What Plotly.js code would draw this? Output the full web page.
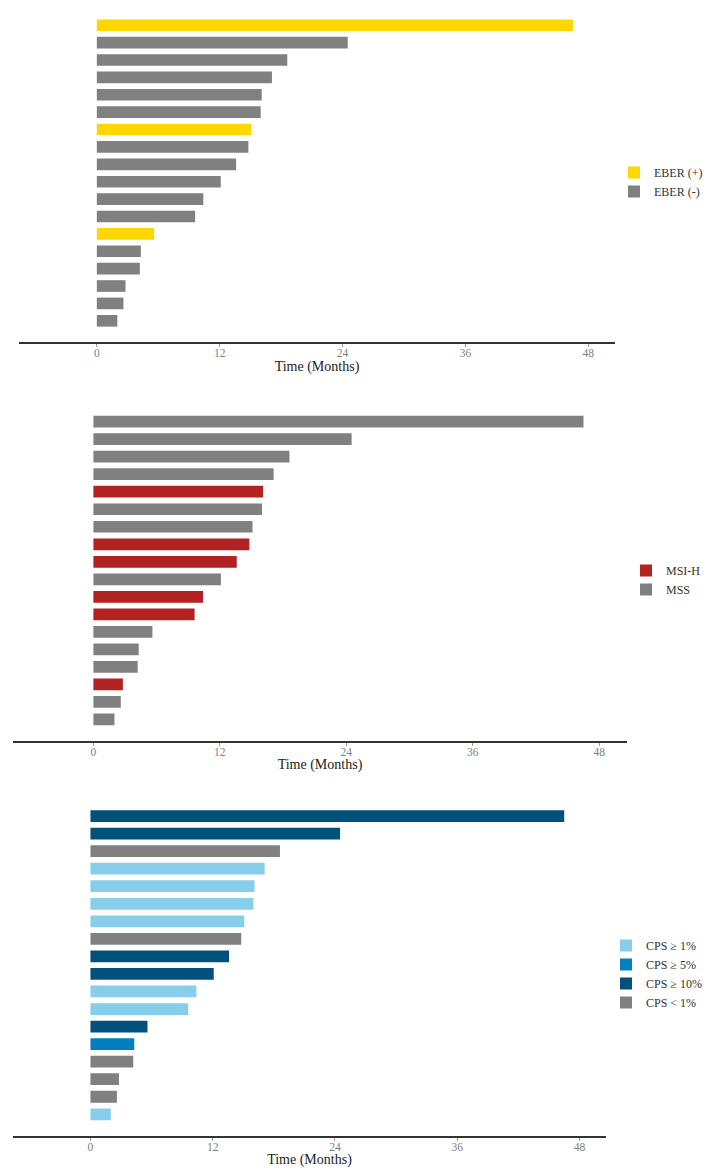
<!DOCTYPE html>
<html>
<head>
<meta charset="utf-8">
<script src="https://cdn.plot.ly/plotly-3.0.1.min.js"></script>
<style>html,body{margin:0;padding:0;background:#fff;}#chart{width:712px;height:1173px;}</style>
</head>
<body>
<div id="chart"></div>
<script>
// ---- Data (one bar per patient, sorted by time) ----
const patientRank = [1,2,3,4,5,6,7,8,9,10,11,12,13,14,15,16,17,18];
const months = [46.5,24.5,18.6,17.1,16.1,16.0,15.1,14.8,13.6,12.1,10.4,9.6,5.6,4.3,4.2,2.8,2.6,2.0];

const eberStatus = ["EBER (+)","EBER (-)","EBER (-)","EBER (-)","EBER (-)","EBER (-)","EBER (+)","EBER (-)","EBER (-)","EBER (-)","EBER (-)","EBER (-)","EBER (+)","EBER (-)","EBER (-)","EBER (-)","EBER (-)","EBER (-)"];
const eberCategories = ["EBER (+)","EBER (-)"];
const eberColors = ["#FFD700","#808080"];

const msiStatus = ["MSS","MSS","MSS","MSS","MSI-H","MSS","MSS","MSI-H","MSI-H","MSS","MSI-H","MSI-H","MSS","MSS","MSS","MSI-H","MSS","MSS"];
const msiCategories = ["MSI-H","MSS"];
const msiColors = ["#B22222","#808080"];

const cpsStatus = ["CPS ≥ 10%","CPS ≥ 10%","CPS < 1%","CPS ≥ 1%","CPS ≥ 1%","CPS ≥ 1%","CPS ≥ 1%","CPS < 1%","CPS ≥ 10%","CPS ≥ 10%","CPS ≥ 1%","CPS ≥ 1%","CPS ≥ 10%","CPS ≥ 5%","CPS < 1%","CPS < 1%","CPS < 1%","CPS ≥ 1%"];
const cpsCategories = ["CPS ≥ 1%","CPS ≥ 5%","CPS ≥ 10%","CPS < 1%"];
const cpsColors = ["#87CEEB","#0080BF","#00527D","#808080"];

const xTickVals = [0,12,24,36,48];
const xTitle = "Time (Months)";

// ---- Layout helpers ----
const W = 712, H = 1173;
const fx = p => p / W;
const fy = p => 1 - p / H;
const serif = "Liberation Serif, Times New Roman, serif";

const panels = [
  {status: eberStatus, cats: eberCategories, cols: eberColors, xpx:[19,615], ypx:[14.8,342], leg:{x:614, y:182}},
  {status: msiStatus,  cats: msiCategories,  cols: msiColors,  xpx:[13.3,626.7], ypx:[411.2,740.7], leg:{x:626, y:580}},
  {status: cpsStatus,  cats: cpsCategories,  cols: cpsColors,  xpx:[13,606], ypx:[805.5,1135.7], leg:{x:606, y:974}}
];

const traces = [];
const layout = {
  width: W, height: H,
  margin: {l:0, r:0, t:0, b:0},
  paper_bgcolor: "#fff", plot_bgcolor: "#fff",
  barmode: "overlay",
  font: {family: serif}
};

panels.forEach((p, i) => {
  const n = i === 0 ? "" : String(i + 1);
  const legName = "legend" + n;
  p.cats.forEach((c, k) => {
    const ys = [], xs = [];
    p.status.forEach((s, j) => { if (s === c) { ys.push(patientRank[j]); xs.push(months[j]); } });
    traces.push({
      type: "bar", orientation: "h",
      x: xs, y: ys, name: c,
      xaxis: "x" + n, yaxis: "y" + n,
      legend: legName,
      width: 0.67,
      marker: {color: p.cols[k], line: {width: 0}},
      hoverinfo: "x+name"
    });
  });
  layout["xaxis" + n] = {
    domain: [fx(p.xpx[0]), fx(p.xpx[1])],
    anchor: "y" + n,
    range: [-7.6, 50.6],
    tickvals: xTickVals,
    ticks: "outside", ticklen: 3, tickwidth: 1, tickcolor: "#999",
    ticklabelstandoff: -4,
    tickfont: {family: serif, size: 11.5, color: "#7f7f7f"},
    showline: true, linecolor: "#333", linewidth: 2,
    showgrid: false, zeroline: false,
    title: {text: xTitle, font: {family: serif, size: 14, color: "#222"}, standoff: 0},
    fixedrange: true
  };
  layout["yaxis" + n] = {
    domain: [fy(p.ypx[1]), fy(p.ypx[0])],
    anchor: "x" + n,
    range: [19.22, 0.4],
    visible: false,
    fixedrange: true
  };
  layout[legName] = {
    x: fx(p.leg.x), xanchor: "left",
    y: fy(p.leg.y), yanchor: "middle",
    xref: "paper", yref: "paper",
    bgcolor: "rgba(0,0,0,0)",
    font: {family: serif, size: 12, color: "#333"},
    traceorder: "normal"
  };
});

Plotly.newPlot("chart", traces, layout, {displayModeBar: false, staticPlot: true});
</script>
</body>
</html>
